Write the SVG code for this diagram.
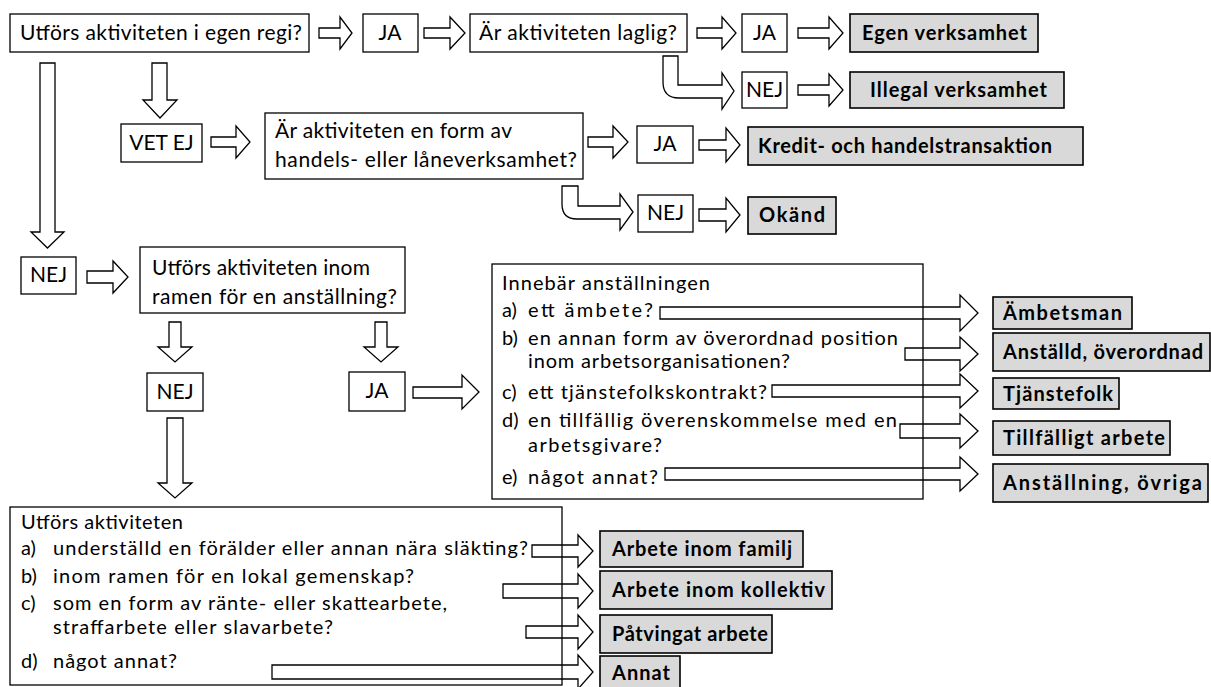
<svg xmlns="http://www.w3.org/2000/svg" width="1211" height="687" viewBox="0 0 1211 687">
<style>
.box{fill:#fff;stroke:#000;stroke-width:1.3}
.out{fill:#d9d9d9;stroke:#000;stroke-width:1.6}
.arr{fill:#fff;stroke:#000;stroke-width:1.3;stroke-linejoin:miter}
.arn{fill:none;stroke:#000;stroke-width:1.3;stroke-linejoin:miter}
text{font-family:Lato,"Open Sans","Liberation Sans",sans-serif;font-size:20px;fill:#000}
.q{font-size:21px}
.b{font-weight:bold;font-size:20px}
.c{text-anchor:middle}
</style>
<rect width="1211" height="687" fill="#fff"/>

<g id="q1"><rect class="box" x="10" y="14" width="299" height="38"/><text class="q" x="20" y="40" textLength="282">Utförs aktiviteten i egen regi?</text></g>
<g id="ja1"><rect class="box" x="363" y="14" width="55" height="38"/><text class="q c" x="390" y="40">JA</text></g>
<g id="q2"><rect class="box" x="470" y="14" width="217" height="38"/><text class="q" x="479" y="40" textLength="198">Är aktiviteten laglig?</text></g>
<g id="ja2"><rect class="box" x="742" y="14" width="45" height="38"/><text class="q c" x="764.5" y="40">JA</text></g>
<g id="nej1"><rect class="box" x="742" y="72" width="45" height="36"/><text class="q c" x="764.5" y="97">NEJ</text></g>
<g id="egen"><rect class="out" x="850" y="14" width="188" height="38"/><text class="b" x="862" y="40" textLength="165">Egen verksamhet</text></g>
<g id="illegal"><rect class="out" x="850" y="72" width="214" height="36"/><text class="b" x="870" y="97" textLength="177">Illegal verksamhet</text></g>

<g id="vetej"><rect class="box" x="121" y="124" width="81" height="38"/><text class="q c" x="161.5" y="150">VET EJ</text></g>
<g id="q3"><rect class="box" x="265" y="113" width="318" height="66"/><text class="q" x="275" y="138" textLength="237">Är aktiviteten en form av</text><text class="q" x="275" y="167" textLength="302">handels- eller låneverksamhet?</text></g>
<g id="ja3"><rect class="box" x="637" y="126" width="56" height="37"/><text class="q c" x="665" y="151">JA</text></g>
<g id="nej2"><rect class="box" x="638" y="195" width="55" height="37"/><text class="q c" x="665.5" y="220">NEJ</text></g>
<g id="kredit"><rect class="out" x="748" y="127" width="335" height="38"/><text class="b" x="758" y="153" textLength="294">Kredit- och handelstransaktion</text></g>
<g id="okand"><rect class="out" x="748" y="197" width="88" height="37"/><text class="b" x="759" y="222" textLength="66">Okänd</text></g>

<g id="nej3"><rect class="box" x="21" y="257" width="55" height="37"/><text class="q c" x="48.5" y="282">NEJ</text></g>
<g id="q4"><rect class="box" x="140" y="247" width="265" height="66"/><text class="q" x="152" y="275" textLength="218">Utförs aktiviteten inom</text><text class="q" x="152" y="304" textLength="245">ramen för en anställning?</text></g>
<g id="nej4"><rect class="box" x="147" y="373" width="56" height="38"/><text class="q c" x="175" y="399">NEJ</text></g>
<g id="ja4"><rect class="box" x="349" y="372" width="56" height="39"/><text class="q c" x="377" y="398">JA</text></g>

<g id="q5"><rect class="box" x="492" y="264" width="431" height="235"/>
<text x="502" y="290" textLength="208">Innebär anställningen</text>
<text x="502" y="317">a)</text><text x="528" y="317" textLength="125">ett ämbete?</text>
<text x="502" y="345">b)</text><text x="528" y="345" textLength="370">en annan form av överordnad position</text>
<text x="528" y="368" textLength="262">inom arbetsorganisationen?</text>
<text x="502" y="399">c)</text><text x="528" y="399" textLength="239">ett tjänstefolkskontrakt?</text>
<text x="502" y="427">d)</text><text x="528" y="427" textLength="369">en tillfällig överenskommelse med en</text>
<text x="528" y="452" textLength="134">arbetsgivare?</text>
<text x="502" y="484">e)</text><text x="528" y="484" textLength="130">något annat?</text>
</g>
<g id="ambetsman"><rect class="out" x="993" y="297" width="139" height="32"/><text class="b" x="1003" y="320" textLength="119">Ämbetsman</text></g>
<g id="anstalld"><rect class="out" x="993" y="333" width="217" height="38"/><text class="b" x="1003" y="359" textLength="200">Anställd, överordnad</text></g>
<g id="tjanstefolk"><rect class="out" x="993" y="378" width="126" height="31"/><text class="b" x="1003" y="401" textLength="110">Tjänstefolk</text></g>
<g id="tillfalligt"><rect class="out" x="993" y="421" width="177" height="34"/><text class="b" x="1003" y="445" textLength="162">Tillfälligt arbete</text></g>
<g id="ovriga"><rect class="out" x="993" y="464" width="215" height="38"/><text class="b" x="1003" y="490" textLength="199">Anställning, övriga</text></g>

<g id="q6"><rect class="box" x="10" y="507" width="552" height="178"/>
<text x="21" y="529" textLength="162">Utförs aktiviteten</text>
<text x="21" y="555">a)</text><text x="53" y="555" textLength="475">underställd en förälder eller annan nära släkting?</text>
<text x="21" y="583">b)</text><text x="53" y="583" textLength="361">inom ramen för en lokal gemenskap?</text>
<text x="21" y="610">c)</text><text x="53" y="610" textLength="394">som en form av ränte- eller skattearbete,</text>
<text x="53" y="634" textLength="280">straffarbete eller slavarbete?</text>
<text x="21" y="668">d)</text><text x="53" y="668" textLength="124">något annat?</text>
</g>
<g id="familj"><rect class="out" x="600" y="531" width="203" height="36"/><text class="b" x="612" y="556" textLength="180">Arbete inom familj</text></g>
<g id="kollektiv"><rect class="out" x="600" y="571" width="232" height="38"/><text class="b" x="612" y="597" textLength="213">Arbete inom kollektiv</text></g>
<g id="patvingat"><rect class="out" x="600" y="615" width="172" height="38"/><text class="b" x="612" y="641" textLength="156">Påtvingat arbete</text></g>
<g id="annat"><rect class="out" x="600" y="656" width="80" height="34"/><text class="b" x="612" y="680" textLength="58">Annat</text></g>

<g id="connectors">
<path class="arr" d="M319,28 L340,28 L340,17 L352,33 L340,49 L340,38 L319,38 Z"/>
<path class="arr" d="M424,28 L450,28 L450,17 L465,33 L450,49 L450,38 L424,38 Z"/>
<path class="arr" d="M697,28 L722,28 L722,17 L736,33 L722,49 L722,38 L697,38 Z"/>
<path class="arr" d="M798,28 L829,28 L829,17 L843,33 L829,49 L829,38 L798,38 Z"/>
<path class="arr" d="M798,85 L829,85 L829,74 L843,90 L829,106 L829,95 L798,95 Z"/>
<path class="arr" d="M663,56 L663,82 Q663,98 679,98 L722,98 L722,109 L734,91 L722,73 L722,85 L678,85 L678,56 Z"/>
<path class="arr" d="M211,137 L236,137 L236,126 L250,142 L236,158 L236,147 L211,147 Z"/>
<path class="arr" d="M588,137 L613,137 L613,126 L628,142 L613,158 L613,147 L588,147 Z"/>
<path class="arr" d="M699,140 L726,140 L726,128 L740,145 L726,162 L726,150 L699,150 Z"/>
<path class="arr" d="M562,186 L562,204 Q562,219 577,219 L620,219 L620,230 L633,212 L620,194 L620,206 L578,206 L578,186 Z"/>
<path class="arr" d="M699,209 L726,209 L726,198 L740,215 L726,232 L726,221 L699,221 Z"/>
<path class="arr" d="M40,63 L55,63 L55,232 L64,232 L47.5,248 L31,232 L40,232 Z"/>
<path class="arr" d="M152,63 L167,63 L167,100 L177,100 L160,118 L143,100 L152,100 Z"/>
<path class="arr" d="M87,271 L113,271 L113,261 L128,277 L113,293 L113,283 L87,283 Z"/>
<path class="arr" d="M169,322 L181,322 L181,347 L192,347 L175,362 L158,347 L169,347 Z"/>
<path class="arr" d="M375,322 L387,322 L387,347 L398,347 L381,362 L364,347 L375,347 Z"/>
<path class="arr" d="M413,387 L462,387 L462,375 L479,392 L462,409 L462,398 L413,398 Z"/>
<path class="arr" d="M167,418 L183,418 L183,483 L192,483 L175,498 L158,483 L167,483 Z"/>
<path class="arn" d="M660,307 L960,307 L960,295 L978,313 L960,331 L960,319 L660,319 Z"/>
<path class="arn" d="M905,348 L960,348 L960,337 L978,354 L960,371 L960,360 L905,360 Z"/>
<path class="arn" d="M772,385 L960,385 L960,374 L978,391 L960,408 L960,397 L772,397 Z"/>
<path class="arn" d="M900,424 L960,424 L960,414 L978,431 L960,448 L960,438 L900,438 Z"/>
<path class="arn" d="M665,468 L960,468 L960,457 L978,474 L960,491 L960,480 L665,480 Z"/>
<path class="arn" d="M532,545 L578,545 L578,535 L593,551 L578,567 L578,557 L532,557 Z"/>
<path class="arn" d="M503,584 L578,584 L578,574 L593,591 L578,608 L578,598 L503,598 Z"/>
<path class="arn" d="M526,626 L578,626 L578,615 L593,632 L578,649 L578,638 L526,638 Z"/>
<path class="arn" d="M272,665 L578,665 L578,655 L593,672 L578,689 L578,679 L272,679 Z"/>
</g>
</svg>
